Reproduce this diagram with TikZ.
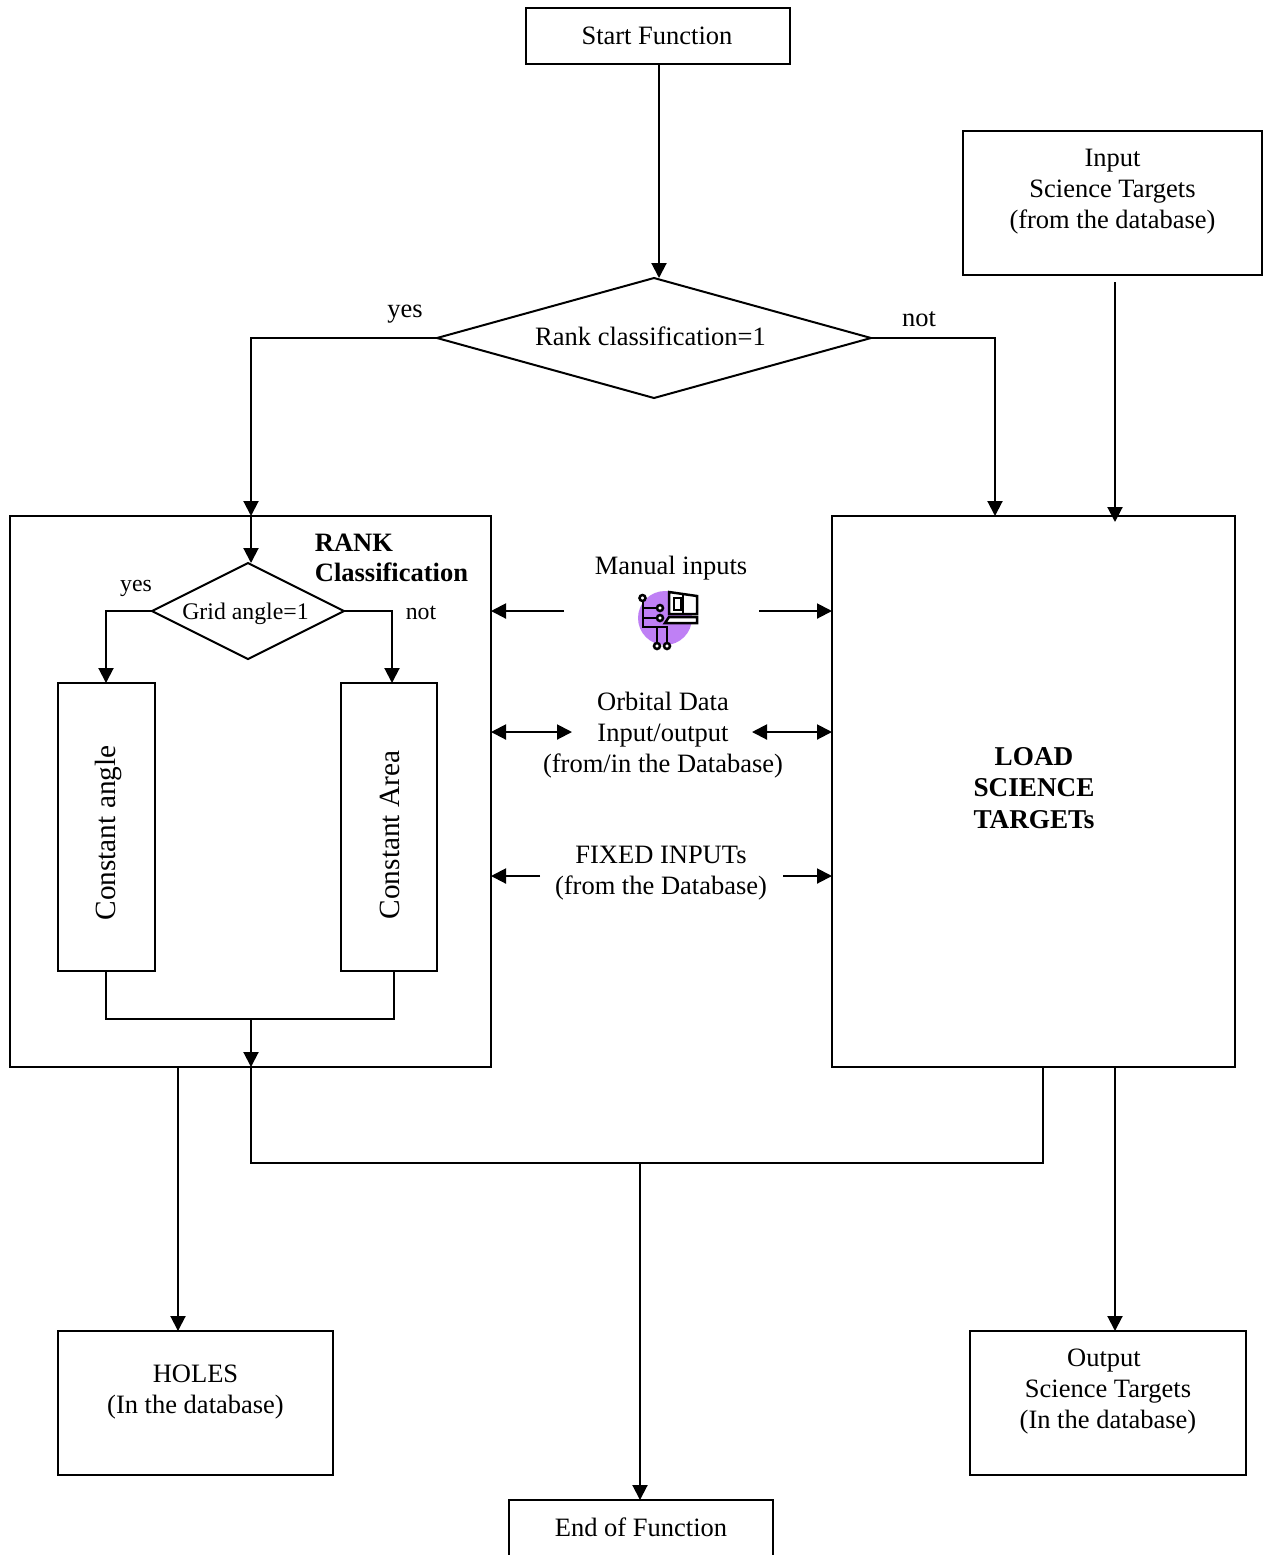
\documentclass[tikz,border=0pt]{standalone}
\usepackage{fontspec}
\setmainfont{Liberation Serif}
\usetikzlibrary{calc}
\usetikzlibrary{arrows.meta}
\usetikzlibrary{shapes.geometric}
\definecolor{iconpurple}{RGB}{191,128,245}
\tikzset{
  >={Triangle[length=7.5pt,width=7.5pt]},
  txt/.style={font=\fontsize{13.25}{15.5}\selectfont, align=center, inner sep=0pt},
  small/.style={font=\fontsize{11.9}{14}\selectfont, inner sep=0pt},
  box/.style={draw, line width=1pt, outer sep=0pt, inner sep=0pt, align=center,
    font=\fontsize{13.25}{15.5}\selectfont},
  decision/.style={draw, line width=1pt, shape=diamond, outer sep=0pt, inner sep=0pt},
  side/.style={font=\fontsize{14.65}{17}\selectfont, rotate=90, inner sep=0pt},
  link/.style={line width=1pt},
  icon/.style={line width=1.25pt}
}
\begin{document}
\begin{tikzpicture}[x=0.5pt, y=-0.5pt]
\useasboundingbox (0,0) rectangle (1263,1555);
\node[box, minimum width=132pt, minimum height=28pt, text depth=0.5pt] (start) at (658,36) {Start Function\hspace*{1pt}};
\node[box, minimum width=149.5pt, minimum height=72pt] (input) at (1112.5,203) {Input\\Science Targets\\(from the database)\\[-1pt]~};
\node[decision, minimum width=217pt, minimum height=60pt, aspect=3.6, text height=8.7pt, text depth=1pt, font=\fontsize{13.25}{15.5}\selectfont] (rankdec) at (654,338) {Rank classification=1\hspace*{3.5pt}};
\node[box, minimum width=240.5pt, minimum height=275.5pt] (rank) at (250.5,791.5) {};
\node[box, minimum width=201.5pt, minimum height=275.5pt] (load) at (1033.5,791.5) {};
\node[txt, font=\fontsize{13.6}{15.7}\selectfont\bfseries] (loadtitle) at (1034,788) {LOAD\\SCIENCE\\TARGETs};
\node[txt, anchor=west, align=left, font=\fontsize{13.25}{15}\selectfont\bfseries] (ranktitle) at (314.5,558) {RANK\\Classification};
\node[decision, minimum width=96pt, minimum height=48pt, aspect=2, small, text height=8pt, text depth=0pt] (grid) at (248,611) {Grid angle=1\hspace*{2.5pt}};
\node[box, minimum width=48.5pt, minimum height=144pt] (angle) at (106.5,827) {};
\node[box, minimum width=48pt, minimum height=144pt] (area) at (389,827) {};
\node[side] (anglelabel) at (108,833) {Constant angle};
\node[side] (arealabel) at (390,835) {Constant Area};
\node[box, minimum width=137.5pt, minimum height=72pt] (holes) at (195.5,1403) {HOLES\\(In the database)\\[-2pt]~};
\node[box, minimum width=138pt, minimum height=72pt] (output) at (1108,1403) {Output\hspace*{4pt}\\Science Targets\hspace*{6pt}\\(In the database)\\[-1pt]~};
\node[box, minimum width=132pt, minimum height=29pt, text depth=2pt] (end) at (641,1529) {End of Function};

\node[txt] (yesA) at (405,314) {yes};
\node[txt] (notA) at (919,319) {not};
\node[small] (yesB) at (136,588) {yes};
\node[small] (notB) at (421,613) {not};
\node[txt] (manual) at (671,568) {Manual inputs};
\node[txt] (orbital) at (663,735) {Orbital Data\\Input/output\\(from/in the Database)};
\node[txt] (fixed) at (661,873) {FIXED INPUTs\\(from the Database)};

\coordinate (startout) at (659,64);
\coordinate (rankin) at (251,516);
\coordinate (loadin) at (995,516);
\coordinate (inputout) at (1115,282);
\coordinate (inputin) at (1115,522);
\coordinate (merge) at (251,1019);
\coordinate (rankout) at (251,1067);
\coordinate (holesout) at (178,1067);
\coordinate (loadout) at (1043,1067);
\coordinate (bus) at (640,1163);
\coordinate (outputout) at (1115,1067);
\coordinate (manualL) at (564,611);
\coordinate (manualR) at (759,611);
\coordinate (orbitalL) at (572,732);
\coordinate (orbitalR) at (752,732);
\coordinate (fixedL) at (540,876);
\coordinate (fixedR) at (783,876);
\coordinate (angleout) at (106,971);
\coordinate (areaout) at (394,971);
\coordinate (anglein) at (106,683);
\coordinate (areain) at (392,683);

\draw[link,->] (startout) -- (startout |- rankdec.north);
\draw[link,->] (rankdec.west) -| (rankin);
\draw[link,->] (rankdec.east) -| (loadin);
\draw[link,->] (inputout) -- (inputin);
\draw[link,->] (rankin) -- (rankin |- grid.north);
\draw[link,->] (grid.west) -| (anglein);
\draw[link,->] (grid.east) -| (areain);
\draw[link] (angleout) |- (merge) -| (areaout);
\draw[link,->] (merge) -- (rankout);
\draw[link,->] (holesout) -- (holesout |- holes.north);
\draw[link] (rankout) |- (bus) -| (loadout);
\draw[link,->] (bus) -- (bus |- end.north);
\draw[link,->] (outputout) -- (outputout |- output.north);
\draw[link,->] (manualL) -- (manualL -| rank.east);
\draw[link,->] (manualR) -- (manualR -| load.west);
\draw[link,<->] (orbitalL) -- (orbitalL -| rank.east);
\draw[link,<->] (orbitalR) -- (orbitalR -| load.west);
\draw[link,->] (fixedL) -- (fixedL -| rank.east);
\draw[link,->] (fixedR) -- (fixedR -| load.west);

\fill[iconpurple] (665,618) circle (27);
\draw[icon] (643,602) -- (643,627) -- (667,627) -- (667,643);
\draw[icon] (657,627) -- (657,643);
\draw[icon] (643,608) -- (657,608);
\draw[icon] (643,618) -- (657,618);
\draw[icon, fill=white] (642.5,598) circle (3);
\draw[icon, fill=white] (660,608) circle (3);
\draw[icon, fill=white] (660,618) circle (3);
\draw[icon, fill=white] (657,646) circle (3);
\draw[icon, fill=white] (667,646) circle (3);
\draw[icon, fill=white] (669,592) -- (697,596) -- (697,614) -- (669,614) -- cycle;
\draw[icon] (683,595) -- (683,614);
\draw[icon] (674,598) rectangle (681,610);
\draw[icon, fill=white] (669,617) -- (697,617) -- (697,623) -- (665,623) -- cycle;
\end{tikzpicture}
\end{document}
